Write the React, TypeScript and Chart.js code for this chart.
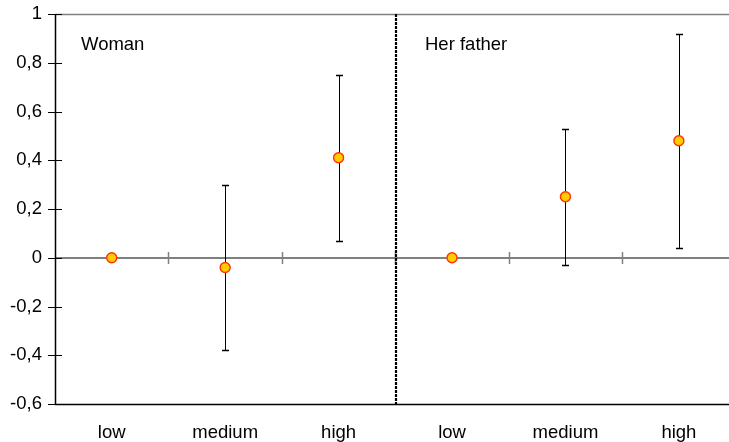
import React, { useEffect, useRef } from "react";
import { Chart, registerables } from "chart.js";

Chart.register(...registerables);

const categories = ["low", "medium", "high", "low", "medium", "high"];
const panels = ["Woman", "Her father"];
const estimates = [0, -0.04, 0.41, 0, 0.25, 0.48];
const lowerCI: (number | null)[] = [null, -0.38, 0.07, null, -0.03, 0.04];
const upperCI: (number | null)[] = [null, 0.3, 0.75, null, 0.53, 0.92];
const yMin = -0.6;
const yMax = 1;
const yStep = 0.2;

const FONT = "'Liberation Sans', Arial, sans-serif";
const FS = 18.5;

function seg(ctx: CanvasRenderingContext2D, x1: number, y1: number, x2: number, y2: number, color: string, w: number) {
  ctx.beginPath();
  ctx.strokeStyle = color;
  ctx.lineWidth = w;
  ctx.moveTo(x1, y1);
  ctx.lineTo(x2, y2);
  ctx.stroke();
}

const decorPlugin = {
  id: "decor",
  beforeDatasetsDraw(chart: any) {
    const { ctx, chartArea: a, scales } = chart;
    const x = scales.x;
    const y = scales.y;
    ctx.save();
    // top border
    seg(ctx, a.left, Math.round(a.top) + 0.5, a.right, Math.round(a.top) + 0.5, "#808080", 1.5);
    // zero line
    const y0 = Math.round(y.getPixelForValue(0));
    seg(ctx, a.left, y0, a.right, y0, "#808080", 2);
    // boundary ticks on zero line
    for (let i = 0; i < categories.length - 1; i++) {
      const bx = Math.round((x.getPixelForValue(i) + x.getPixelForValue(i + 1)) / 2) + 0.5;
      seg(ctx, bx, y0 - 6, bx, y0 + 6, "#808080", 1.5);
    }
    // y axis
    const lx = Math.round(a.left) + 0.5;
    seg(ctx, lx, a.top, lx, a.bottom + 1, "#000", 1.5);
    // bottom axis
    const by = Math.round(a.bottom) + 0.5;
    seg(ctx, a.left, by, a.right, by, "#000", 1.5);
    // y ticks
    y.ticks.forEach((t: any) => {
      const py = Math.round(y.getPixelForValue(t.value)) + 0.5;
      seg(ctx, a.left - 7, py, a.left + 7, py, "#000", 1);
    });
    // separator between panels
    const sx = Math.round((x.getPixelForValue(2) + x.getPixelForValue(3)) / 2) + 1;
    ctx.setLineDash([3, 1]);
    seg(ctx, sx, a.top, sx, a.bottom, "#000", 2.2);
    ctx.setLineDash([]);
    // error bars
    for (let i = 0; i < categories.length; i++) {
      const lo = lowerCI[i];
      const hi = upperCI[i];
      if (lo === null || hi === null) continue;
      const px = Math.round(x.getPixelForValue(i)) + 0.5;
      const pl = Math.round(y.getPixelForValue(lo)) + 0.5;
      const ph = Math.round(y.getPixelForValue(hi)) + 0.5;
      seg(ctx, px, ph, px, pl, "#000", 1);
      seg(ctx, px - 3.5, ph, px + 3.5, ph, "#000", 1.5);
      seg(ctx, px - 3.5, pl, px + 3.5, pl, "#000", 1.5);
    }
    // panel titles
    ctx.fillStyle = "#000";
    ctx.font = `${FS}px ${FONT}`;
    ctx.textBaseline = "middle";
    ctx.textAlign = "left";
    ctx.fillText(panels[0], a.left + 26, a.top + 31);
    ctx.fillText(panels[1], sx + 29, a.top + 31);
    ctx.restore();
  },
};

export default function App() {
  const ref = useRef<HTMLCanvasElement | null>(null);
  useEffect(() => {
    if (!ref.current) return;
    const chart = new Chart(ref.current, {
      type: "line",
      data: {
        labels: categories,
        datasets: [
          {
            data: estimates,
            showLine: false,
            pointRadius: 5,
            pointHoverRadius: 5,
            pointBackgroundColor: "#FFCC00",
            pointBorderColor: "#FF3300",
            pointBorderWidth: 1.4,
          },
        ],
      },
      options: {
        responsive: false,
        animation: false,
        events: [],
        layout: { padding: { top: 14, left: 0, right: 0, bottom: 0 } },
        plugins: { legend: { display: false }, tooltip: { enabled: false } },
        scales: {
          x: {
            type: "category",
            offset: true,
            grid: { display: false, drawTicks: false },
            border: { display: false },
            ticks: {
              color: "#000",
              font: { family: FONT, size: FS },
              padding: 18,
              maxRotation: 0,
              autoSkip: false,
            },
            afterFit: (s: any) => {
              s.height = 38;
              s.paddingLeft = 0;
              s.paddingRight = 0;
            },
          },
          y: {
            min: yMin,
            max: yMax,
            grid: { display: false, drawTicks: false },
            border: { display: false },
            ticks: {
              stepSize: yStep,
              color: "#000",
              padding: 13,
              font: { family: FONT, size: FS },
              callback: (v: any) => (Math.round(Number(v) * 10) / 10).toString().replace(".", ","),
            },
            afterFit: (s: any) => {
              s.width = 55;
              s.paddingTop = 0;
              s.paddingBottom = 0;
            },
          },
        },
      },
      plugins: [decorPlugin],
    });
    return () => chart.destroy();
  }, []);
  return (
    <div
      style={{
        position: "absolute",
        left: 0,
        top: 0,
        width: 729,
        height: 442,
        overflow: "hidden",
        background: "#fff",
      }}
    >
      <canvas ref={ref} width={742} height={442} style={{ width: 742, height: 442, display: "block" }} />
    </div>
  );
}
